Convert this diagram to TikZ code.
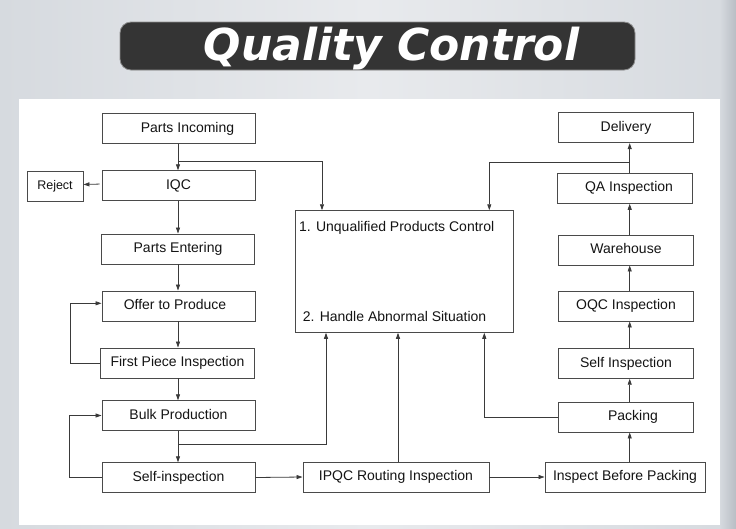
\documentclass[tikz,border=0pt]{standalone}
\usepackage{fontspec}
\setmainfont{Liberation Sans}
\newfontfamily\titlefont{DejaVu Sans}
\usetikzlibrary{arrows.meta,calc}
\definecolor{bgA}{RGB}{214,218,223}
\definecolor{bgB}{RGB}{232,234,237}
\definecolor{bgC}{RGB}{184,189,196}
\definecolor{barfill}{RGB}{52,52,52}
\definecolor{barline}{RGB}{140,140,140}
\definecolor{boxline}{RGB}{74,74,74}
\definecolor{arrline}{RGB}{58,58,58}
\definecolor{txt}{RGB}{20,20,20}
\tikzset{
  box/.style={draw=boxline, line width=0.9pt, fill=white, inner sep=0pt,
    minimum height=29.5pt, text height=10pt, text depth=3pt,
    font=\fontsize{14}{16}\selectfont, text=txt},
  arr/.style={draw=arrline, line width=0.8pt, -{Triangle[length=6pt,width=4pt]}},
  cbtext/.style={inner sep=0pt, anchor=base west, font=\fontsize{14}{16}\selectfont, text=txt},
}
\begin{document}
\begin{tikzpicture}[x=1pt,y=-1pt]
\useasboundingbox (0,0) rectangle (736,528);
% background
\shade[left color=bgA, right color=bgA, middle color=bgB] (0,0) rectangle (736,528);
\shade[left color=bgA, right color=bgC] (720,0) rectangle (736,528);
% panel
\fill[white] (19,99) rectangle (720,525);
% title bar
\draw[barline, line width=0.8pt, fill=barfill, rounded corners=11pt] (120,22) rectangle (635,70);
\node[inner sep=0pt, anchor=base, text=white, font=\titlefont\bfseries\itshape\fontsize{44}{48}\selectfont] (title) at (391.5,60) {Quality Control};

% left column
\node[box, minimum width=153pt] (PI) at (178.5,128.5) {\hspace*{18pt}Parts Incoming};
\node[box, minimum width=153pt] (IQC) at (178.5,185.5) {IQC};
\node[box, minimum width=56pt, minimum height=30pt, font=\fontsize{12.5}{14}\selectfont] (Rej) at (55,186) {Reject};
\node[box, minimum width=153pt, minimum height=30pt] (PE) at (178,249) {Parts Entering};
\node[box, minimum width=153pt, minimum height=30pt] (OP) at (178.5,306) {Offer to Produce\hspace*{7pt}};
\node[box, minimum width=154pt, minimum height=30pt] (FPI) at (177.5,363) {First Piece Inspection};
\node[box, minimum width=153pt] (BP) at (178.5,415.5) {Bulk Production};
\node[box, minimum width=153pt] (SI) at (178.5,477.5) {Self-inspection};

% center box
\node[box, minimum width=218pt, minimum height=121.6pt] (CB) at (404,271.5) {};
\node[cbtext] (CB1) at (299,231.7) {1. Unqualified Products Control};
\node[cbtext] (CB2) at (302.7,321.7) {2. Handle Abnormal Situation};

% bottom row
\node[box, minimum width=186pt, minimum height=30pt] (IPQC) at (396,477) {IPQC Routing Inspection};
\node[box, minimum width=160pt, minimum height=30pt] (IBP) at (625,477) {Inspect Before Packing};

% right column
\node[box, minimum width=135pt, minimum height=30pt] (Pack) at (626,417) {\hspace*{14pt}Packing};
\node[box, minimum width=135pt] (SelfI) at (626,363.5) {Self Inspection};
\node[box, minimum width=135pt, minimum height=30pt] (OQC) at (626,306) {OQC Inspection};
\node[box, minimum width=135pt, minimum height=30pt] (WH) at (626,250) {Warehouse};
\node[box, minimum width=135pt, minimum height=30pt] (QA) at (625,188.3) {\hspace*{8pt}QA Inspection};
\node[box, minimum width=135pt, minimum height=30pt] (Del) at (626,127.7) {Delivery};

% helper coordinates
\coordinate (lx) at (178,0);
\coordinate (rx) at (629.7,0);
\coordinate (j1) at (322,161.3);
\coordinate (j2) at (326,444);
\coordinate (j3) at (398,0);
\coordinate (j4) at (484.3,0);
\coordinate (j5) at (489.3,162);

% left column connectors
\draw[arr] (PI.south -| lx) -- (IQC.north -| lx);
\draw[arr] (PI.south -| lx) |- (j1) -- (j1 |- CB.north);
\draw[arr, shorten <=2pt] ([yshift=1.5pt]IQC.west) -- ([yshift=1.5pt]Rej.east);
\draw[arr] (IQC.south -| lx) -- (PE.north -| lx);
\draw[arr] (PE.south -| lx) -- (OP.north -| lx);
\draw[arr] (OP.south -| lx) -- (FPI.north -| lx);
\draw[arr] (FPI.south -| lx) -- (BP.north -| lx);
\draw[arr] (BP.south -| lx) -- (SI.north -| lx);
\draw[arr] (FPI.west) -- ++(-30,0) |- ([yshift=2.7pt]OP.west);
\draw[arr] (SI.west) -- ++(-32,0) |- (BP.west);
\draw[arr] (BP.south -| lx) |- (j2) -- (j2 |- CB.south);
\draw[arr] (SI.east) -- (IPQC.west);

% bottom and right connectors
\draw[arr] (IPQC.north -| j3) -- (CB.south -| j3);
\draw[arr] (IPQC.east) -- (IBP.west);
\draw[arr] (IBP.north -| rx) -- (Pack.south -| rx);
\draw[arr] (Pack.west) -| (j4 |- CB.south);
\draw[arr] (Pack.north -| rx) -- (SelfI.south -| rx);
\draw[arr] (SelfI.north -| rx) -- (OQC.south -| rx);
\draw[arr] (OQC.north -| rx) -- (WH.south -| rx);
\draw[arr] (WH.north -| rx) -- (QA.south -| rx);
\draw[arr] (QA.north -| rx) -- (Del.south -| rx);
\draw[arr] (QA.north -| rx) |- (j5) -- (j5 |- CB.north);
\end{tikzpicture}
\end{document}
